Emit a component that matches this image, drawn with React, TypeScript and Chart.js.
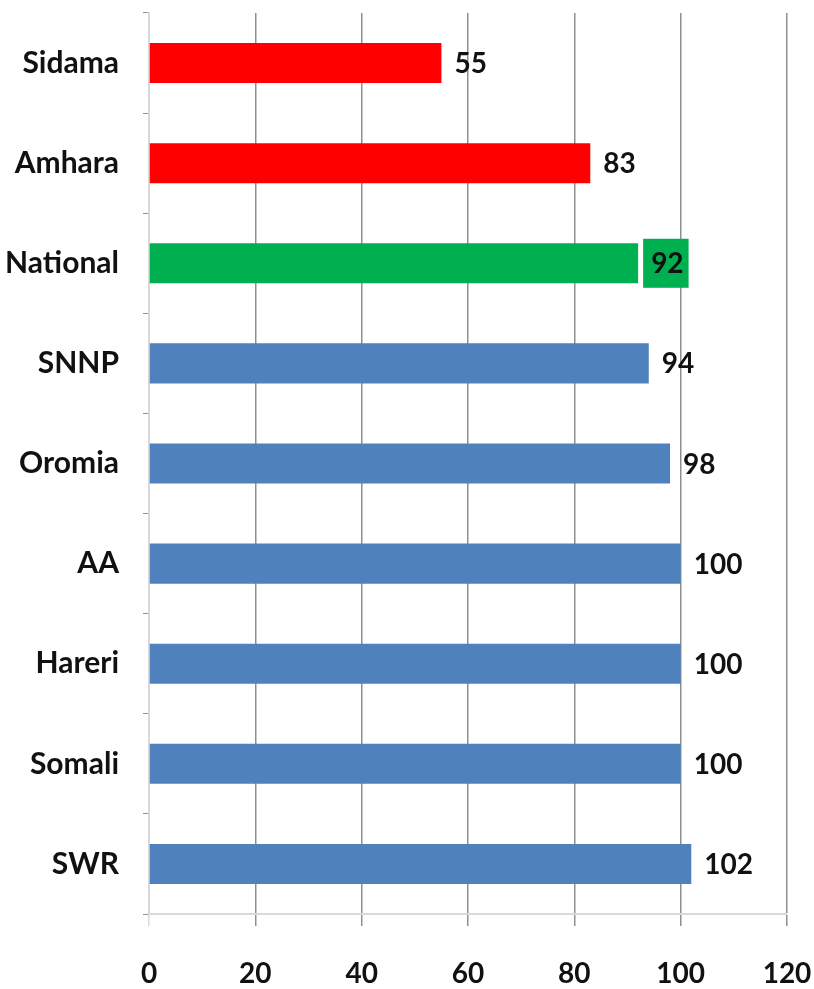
import React, { useEffect, useRef } from "react";
import { Chart, registerables } from "chart.js";

Chart.register(...registerables);

const categories = ["Sidama", "Amhara", "National", "SNNP", "Oromia", "AA", "Hareri", "Somali", "SWR"];
const values = [55, 83, 92, 94, 98, 100, 100, 100, 102];
const barColors = ["#FF0000", "#FF0000", "#00B050", "#4F81BD", "#4F81BD", "#4F81BD", "#4F81BD", "#4F81BD", "#4F81BD"];
const xTickValues = [0, 20, 40, 60, 80, 100, 120];
const highlightedCategory = "National";

const FONT = "Lato";

const valueLabels = {
  id: "valueLabels",
  afterDatasetsDraw(chart: any) {
    const ctx = chart.ctx;
    const meta = chart.getDatasetMeta(0);
    ctx.save();
    ctx.font = `bold 28px ${FONT}`;
    ctx.textBaseline = "middle";
    ctx.textAlign = "left";
    meta.data.forEach((bar: any, i: number) => {
      const text = String(values[i]);
      const x = bar.x + 13;
      const y = bar.y;
      const w = ctx.measureText(text).width;
      if (categories[i] === highlightedCategory) {
        ctx.fillStyle = barColors[i];
        ctx.fillRect(x - 8, y - 24.5, w + 13, 49);
      }
      ctx.fillStyle = "#111111";
      ctx.fillText(text, x, y + 1);
    });
    ctx.restore();
  },
};

export default function App() {
  const canvasRef = useRef<HTMLCanvasElement | null>(null);

  useEffect(() => {
    if (!canvasRef.current) return;
    const chart = new Chart(canvasRef.current, {
      type: "bar",
      data: {
        labels: categories,
        datasets: [
          {
            data: values,
            backgroundColor: barColors,
            barPercentage: 0.4,
            categoryPercentage: 1,
          },
        ],
      },
      plugins: [valueLabels],
      options: {
        indexAxis: "y",
        animation: false,
        responsive: false,
        maintainAspectRatio: false,
        layout: { padding: { top: 13, right: 27, left: 0, bottom: 0 } },
        plugins: {
          legend: { display: false },
          tooltip: { enabled: false },
        },
        scales: {
          x: {
            min: 0,
            max: 120,
            afterBuildTicks: (scale: any) => {
              scale.ticks = xTickValues.map((v) => ({ value: v }));
            },
            afterFit: (scale: any) => {
              scale.height = 75;
              scale.paddingLeft = 0;
              scale.paddingRight = 0;
            },
            grid: {
              color: (c: any) => (c.index === 0 ? "#d9d9d9" : "#8f8f8f"),
              lineWidth: 1.5,
              tickLength: 12,
            },
            border: { color: "#d9d9d9", width: 2 },
            ticks: {
              padding: 31,
              color: "#111111",
              font: { family: FONT, size: 28, weight: "bold" },
            },
          },
          y: {
            offset: true,
            afterFit: (scale: any) => {
              scale.width = 149;
              scale.paddingTop = 0;
              scale.paddingBottom = 0;
            },
            grid: {
              offset: true,
              drawOnChartArea: false,
              color: "#8f8f8f",
              tickLength: 6,
            },
            border: { color: "#d9d9d9", width: 2 },
            ticks: {
              padding: 24,
              color: "#111111",
              font: { family: FONT, size: 30, weight: "bold" },
            },
          },
        },
      } as any,
    });
    return () => chart.destroy();
  }, []);

  return (
    <div style={{ position: "absolute", left: 0, top: 0, width: 814, height: 989, background: "#fff" }}>
      <canvas ref={canvasRef} width={814} height={989} style={{ width: 814, height: 989 }} />
    </div>
  );
}
